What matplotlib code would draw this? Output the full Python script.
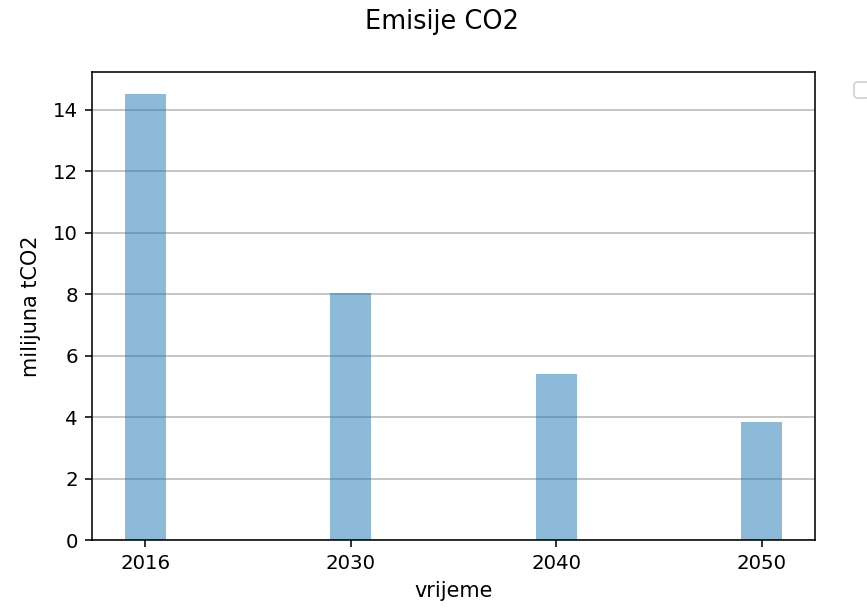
import numpy as np
import matplotlib.pyplot as plt

godine = ["2016", "2030", "2040", "2050"]
emisije = [14.5, 8.05, 5.4, 3.85]

fig = plt.figure(figsize=(867 / 142, 611 / 142), dpi=142)
ax = fig.add_axes([0.106, 0.116, 0.834, 0.766])

x = np.arange(len(godine))
ax.bar(x, emisije, width=0.2, color="C0", alpha=0.5)
ax.set_xticks(x)
ax.set_xticklabels(godine)
ax.grid(axis="y", color="#b8b8b8")
ax.set_axisbelow(True)

ax.set_xlabel("vrijeme", fontsize=10.5)
ax.set_ylabel("milijuna tCO2", fontsize=10.5, labelpad=6)
fig.suptitle("Emisije CO2", x=0.51, y=0.985, fontsize=13)

# prazna legenda desno od grafa
ax.legend(handles=[], bbox_to_anchor=(1.04, 1), loc="upper left")

fig.savefig("out.png", dpi=142)
